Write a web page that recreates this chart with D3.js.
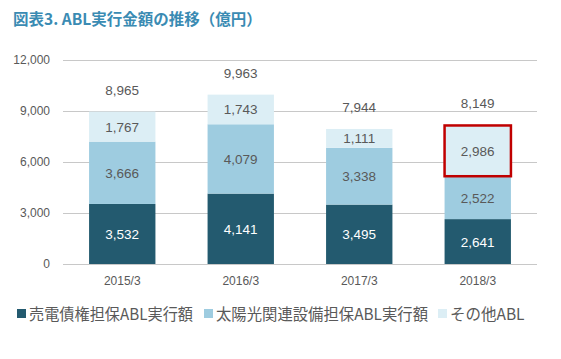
<!DOCTYPE html>
<html><head><meta charset="utf-8">
<script src="https://cdn.jsdelivr.net/npm/d3@7"></script>
<style>body{margin:0;background:#fff;} svg{display:block;font-family:"Liberation Sans","Noto Sans CJK JP",sans-serif;}</style>
</head><body>
<svg id="c" width="561" height="359"></svg>
<script>
const categories = ["2015/3","2016/3","2017/3","2018/3"];
const seriesNames = ["売電債権担保ABL実行額","太陽光関連設備担保ABL実行額","その他ABL"];
const s1 = [3532,4141,3495,2641];
const s2 = [3666,4079,3338,2522];
const s3 = [1767,1743,1111,2986];
const totals = [8965,9963,7944,8149];
const yTicks = [0,3000,6000,9000,12000];
const colors = ["#235A6F","#9ECCE0","#DCEEF5"];
const labelColors = ["#ffffff","#595959","#595959"];

const svg = d3.select("#c");
const x = d3.scaleBand().domain(categories).range([63,537]).paddingInner(0.44).paddingOuter(0.22);
const y = d3.scaleLinear().domain([0,12000]).range([264,60]);

svg.append("text").attr("x",13).attr("y",25).attr("fill","#3A8BB3").attr("font-size",15.5).attr("font-weight","bold")
  .attr("font-family","'Noto Sans CJK JP',sans-serif").text("図表3. ABL実行金額の推移（億円）");

// grid
svg.append("g").selectAll("line").data(yTicks).join("line")
  .attr("x1",63).attr("x2",537).attr("y1",d=>y(d)+0.5).attr("y2",d=>y(d)+0.5)
  .attr("stroke","#C8C8C8").attr("stroke-width",1);
svg.append("g").selectAll("text").data(yTicks).join("text")
  .attr("x",50).attr("y",d=>y(d)+4).attr("text-anchor","end").attr("fill","#595959").attr("font-size",12)
  .text(d=>d3.format(",")(d));

const data = categories.map((c,i)=>({cat:c,v:[s1[i],s2[i],s3[i]]}));
const stack = d3.stack().keys([0,1,2]).value((d,k)=>d.v[k])(data);

stack.forEach((layer,k)=>{
  const g = svg.append("g");
  g.selectAll("rect").data(layer).join("rect")
    .attr("x",d=>x(d.data.cat)).attr("width",x.bandwidth())
    .attr("y",d=>y(d[1])).attr("height",d=>y(d[0])-y(d[1])).attr("fill",colors[k]);
  g.selectAll("text").data(layer).join("text")
    .attr("x",d=>x(d.data.cat)+x.bandwidth()/2).attr("y",d=>(y(d[0])+y(d[1]))/2+5)
    .attr("text-anchor","middle").attr("fill",labelColors[k]).attr("font-size",13.5)
    .text(d=>d3.format(",")(d[1]-d[0]));
});

// highlight box around last "other" segment
const hl = stack[2][3];
svg.append("rect").attr("x",x(hl.data.cat)).attr("width",x.bandwidth())
  .attr("y",y(hl[1])).attr("height",y(hl[0])-y(hl[1]))
  .attr("fill","none").attr("stroke","#C00000").attr("stroke-width",2.5);

// totals
svg.append("g").selectAll("text").data(categories).join("text")
  .attr("x",d=>x(d)+x.bandwidth()/2).attr("y",(d,i)=>y(totals[i])-17)
  .attr("text-anchor","middle").attr("fill","#595959").attr("font-size",13.5)
  .text((d,i)=>d3.format(",")(totals[i]));

// x labels
svg.append("g").selectAll("text").data(categories).join("text")
  .attr("x",d=>x(d)+x.bandwidth()/2).attr("y",285)
  .attr("text-anchor","middle").attr("fill","#595959").attr("font-size",12).text(d=>d);

// legend
const legX = [17,204,438];
const legW = [164,212,null];
const lg = svg.append("g");
seriesNames.forEach((n,k)=>{
  lg.append("rect").attr("x",legX[k]).attr("y",309).attr("width",9).attr("height",9).attr("fill",colors[k]);
  const t = lg.append("text").attr("x",legX[k]+12).attr("y",320).attr("fill","#595959").attr("font-size",15.5)
    .attr("font-family","'Noto Sans CJK JP',sans-serif").text(n);
  if (legW[k]) t.attr("textLength",legW[k]).attr("lengthAdjust","spacingAndGlyphs");
});
</script>
</body></html>
